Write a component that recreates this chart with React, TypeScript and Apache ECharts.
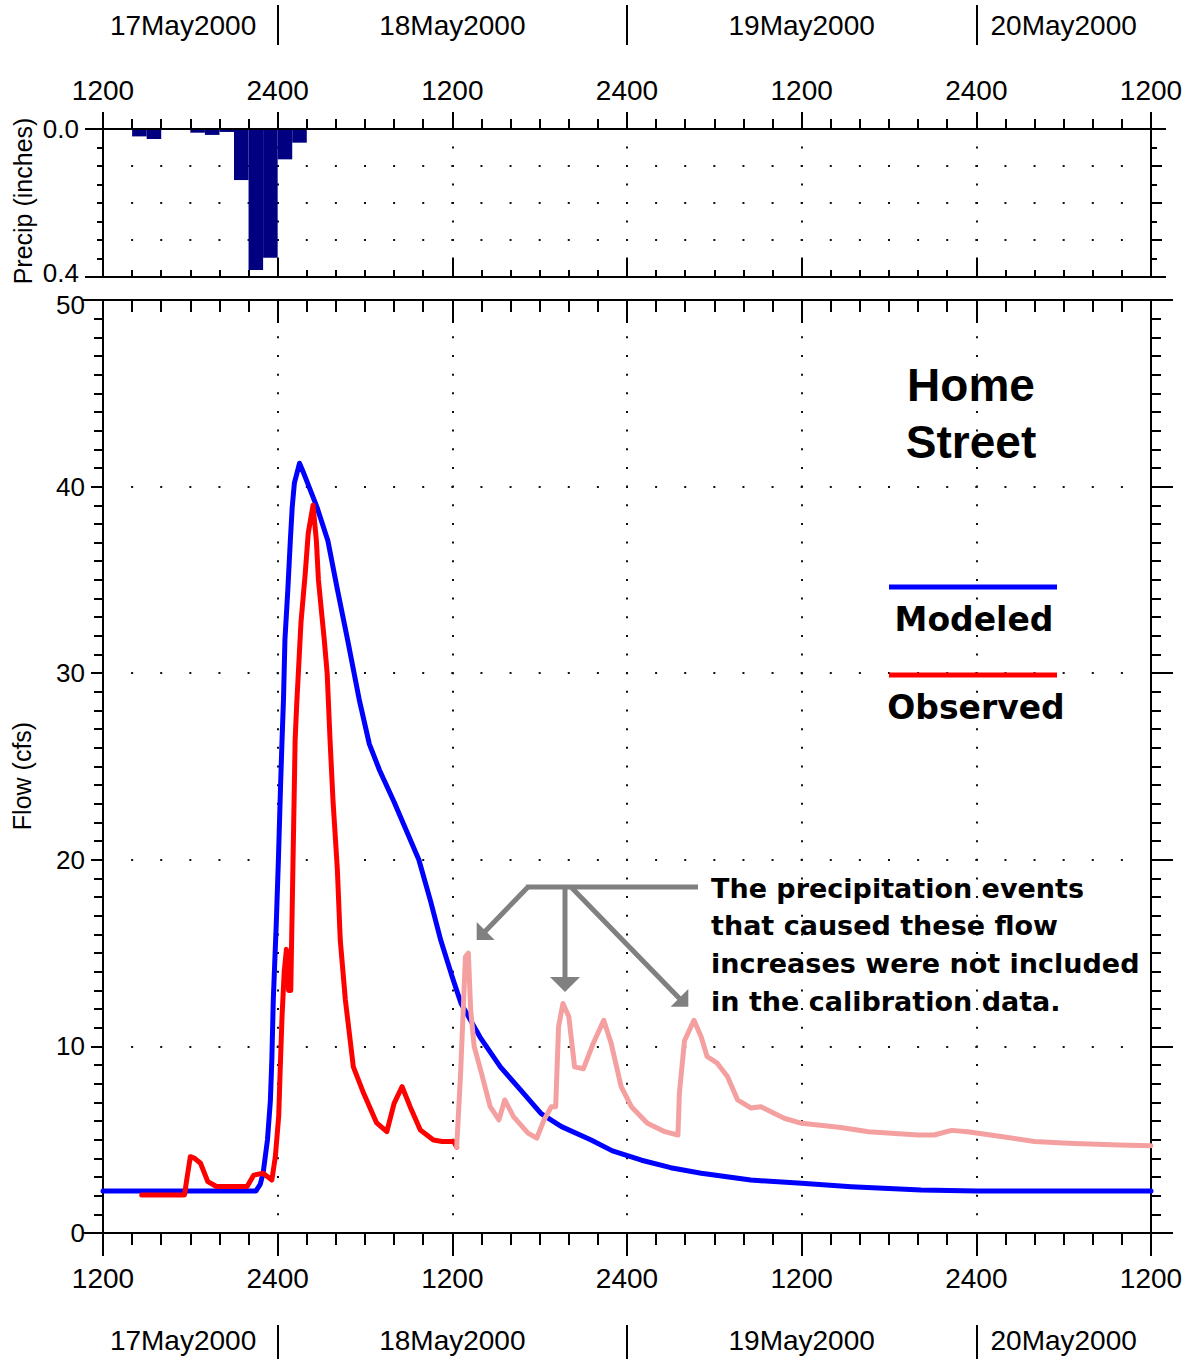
import React, { useEffect, useRef } from "react";
import * as echarts from "echarts";

// ---------- DATA ----------
// hours counted from 17May2000 12:00
const axisHours = [0, 12, 24, 36, 48, 60, 72];
const dateLabels = ["17May2000", "18May2000", "19May2000", "20May2000"];
const dateLabelHours = [5.5, 24, 48, 66];
const midnightHours = [12, 36, 60];

// hourly precipitation (bar starts at hour, lasts one hour), inches
const precipHours = [2, 3, 6, 7, 8, 9, 10, 11, 12, 13];
const precipValues = [0.02, 0.027, 0.01, 0.016, 0.008, 0.138, 0.381, 0.348, 0.082, 0.037];

const modeledHours = [0, 10.5, 10.8, 11.0, 11.3, 11.5, 11.6, 11.7, 11.9, 12.05, 12.2, 12.3, 12.4, 12.5, 12.7, 12.87, 13.0, 13.15, 13.5, 13.8, 14.15, 14.7, 15.45, 16.1, 16.8, 17.6, 18.3, 19.0, 20.0, 21.7, 22.5, 23.2, 24.0, 24.6, 25.9, 27.3, 28.7, 30.1, 31.5, 33.5, 35.0, 37.0, 39.0, 41.1, 44.5, 48.0, 51.4, 56.2, 60.0, 72.0];
const modeledFlow = [2.25, 2.25, 2.6, 3.2, 5.0, 7.1, 9.3, 12.5, 16.5, 20.0, 24.0, 26.4, 28.6, 31.8, 34.5, 37.1, 38.9, 40.2, 41.25, 40.7, 40.0, 38.9, 37.1, 34.5, 31.8, 28.6, 26.2, 24.8, 23.1, 20.0, 17.8, 15.7, 13.7, 12.3, 10.5, 8.9, 7.66, 6.4, 5.7, 5.0, 4.4, 3.9, 3.5, 3.2, 2.84, 2.66, 2.48, 2.3, 2.25, 2.25];

const observedHours = [2.66, 5.6, 5.75, 6.0, 6.3, 6.7, 7.2, 7.8, 9.9, 10.35, 11.0, 11.6, 11.84, 12.07, 12.18, 12.3, 12.45, 12.6, 12.75, 12.9, 13.2, 13.3, 13.5, 13.6, 13.9, 14.1, 14.43, 14.66, 14.8, 15.05, 15.2, 15.4, 15.5, 15.6, 15.8, 16.1, 16.3, 16.65, 17.2, 17.9, 18.8, 19.5, 20.0, 20.55, 21.1, 21.8, 22.7, 23.3, 24.1, 24.3];
const observedFlow = [2.04, 2.04, 2.84, 4.09, 4.0, 3.74, 2.75, 2.49, 2.49, 3.1, 3.2, 2.84, 4.09, 6.24, 8.9, 11.6, 14.0, 15.2, 13.0, 13.0, 26.4, 28.2, 31.2, 32.7, 35.4, 37.5, 39.0, 37.1, 35.0, 33.0, 31.8, 30.0, 28.2, 26.4, 23.2, 19.5, 15.7, 12.5, 8.9, 7.5, 5.9, 5.43, 6.95, 7.84, 6.77, 5.52, 4.98, 4.9, 4.9, 4.6];

const uncalibratedHours = [24.3, 24.57, 24.9, 25.1, 25.26, 25.5, 26.0, 26.6, 27.2, 27.6, 28.2, 29.2, 29.8, 30.3, 30.8, 31.1, 31.3, 31.6, 32.0, 32.4, 33.0, 33.7, 34.4, 34.9, 35.6, 36.3, 37.4, 38.6, 39.5, 39.6, 39.95, 40.6, 41.1, 41.5, 42.2, 42.9, 43.6, 44.5, 45.2, 46.1, 46.8, 48.0, 50.7, 52.6, 56.0, 57.1, 58.3, 59.4, 61.7, 64.0, 66.3, 69.8, 72.0];
const uncalibratedFlow = [4.6, 8.6, 14.8, 15.0, 11.95, 10.0, 8.57, 6.77, 6.06, 7.13, 6.24, 5.35, 5.08, 6.06, 6.77, 6.77, 11.07, 12.3, 11.6, 8.9, 8.8, 10.2, 11.4, 10.2, 7.84, 6.77, 5.88, 5.43, 5.25, 7.5, 10.3, 11.4, 10.5, 9.46, 9.1, 8.39, 7.13, 6.7, 6.77, 6.42, 6.15, 5.88, 5.65, 5.43, 5.25, 5.25, 5.5, 5.43, 5.17, 4.9, 4.81, 4.72, 4.68];

const titleLines = ["Home", "Street"];
const legendNames = ["Modeled", "Observed"];
const noteLines = [
  "The precipitation events",
  "that caused these flow",
  "increases were not included",
  "in the calibration data.",
];

// ---------- LAYOUT ----------
const W = 1190;
const H = 1359;
const GL = 103;
const GR = 1151;
const P_TOP = 129;
const P_BOT = 277;
const F_TOP = 300;
const F_BOT = 1233;
const GW = GR - GL;
const SANS = "'Liberation Sans', Arial, sans-serif";
const BOLD_WIDE = "'DejaVu Sans', Verdana, sans-serif";
const BLACK = "#000000";
const GRAY = "#808080";
const BLUE = "#0000FF";
const RED = "#FF0000";
const PINK = "#F5A0A0";
const NAVY = "#000080";

const hourDotGap = GW / 36; // dot every 2 hours
const precipDotGap = (P_BOT - P_TOP) / 8; // 0.05 in
const flowDotGap = (F_BOT - F_TOP) / 50; // 1 cfs

const stroke = { color: BLACK, width: 2 };
const dotted = (gap: number) => ({ color: "#111", width: 2, type: [2, gap - 2], dashOffset: 1 });
const hourLabel = (v: number) => (Math.round(v) % 24 === 0 ? "1200" : "2400");

function xAx(o: any) {
  return {
    type: "value",
    min: 0,
    max: 72,
    interval: 12,
    axisLine: { show: true, onZero: false, lineStyle: stroke },
    splitLine: { show: false },
    minorSplitLine: { show: false },
    ...o,
  };
}
function yAx(o: any) {
  return {
    type: "value",
    axisLine: { show: true, onZero: false, lineStyle: stroke },
    splitLine: { show: false },
    minorSplitLine: { show: false },
    ...o,
  };
}

function buildOption() {
  const tickLabel = { color: BLACK, fontSize: 28, fontFamily: SANS };
  const yFont = { color: BLACK, fontSize: 26, fontFamily: SANS };
  const xAxis = [
    xAx({
      gridIndex: 0,
      position: "top",
      axisTick: { show: true, inside: false, length: 17, lineStyle: stroke },
      minorTick: { show: true, splitNumber: 6, length: 10, lineStyle: stroke },
      axisLabel: { show: true, formatter: hourLabel, margin: 25, showMinLabel: true, showMaxLabel: true, ...tickLabel },
      splitLine: { show: true, lineStyle: dotted(precipDotGap) },
    }),
    xAx({
      gridIndex: 0,
      position: "bottom",
      axisTick: { show: true, inside: true, length: 19, lineStyle: stroke },
      minorTick: { show: true, splitNumber: 6, length: 7, lineStyle: stroke },
      axisLabel: { show: false },
    }),
    xAx({
      gridIndex: 1,
      position: "top",
      axisTick: { show: true, inside: true, length: 23, lineStyle: stroke },
      minorTick: { show: true, splitNumber: 6, length: 12, lineStyle: stroke },
      axisLabel: { show: false },
    }),
    xAx({
      gridIndex: 1,
      position: "bottom",
      axisTick: { show: true, inside: false, length: 23, lineStyle: stroke },
      minorTick: { show: true, splitNumber: 6, length: 12, lineStyle: stroke },
      axisLabel: { show: true, formatter: hourLabel, margin: 31, showMinLabel: true, showMaxLabel: true, ...tickLabel },
      splitLine: { show: true, lineStyle: dotted(flowDotGap) },
    }),
    xAx({
      gridIndex: 0,
      position: "top",
      offset: P_TOP - 45,
      interval: undefined,
      axisLine: { show: false, onZero: false },
      axisTick: { show: true, inside: false, length: 40, lineStyle: stroke, customValues: midnightHours },
      minorTick: { show: false },
      axisLabel: {
        show: true,
        customValues: dateLabelHours,
        formatter: (v: number) => dateLabels[dateLabelHours.indexOf(v)] ?? "",
        margin: 6,
        ...tickLabel,
      },
    }),
    xAx({
      gridIndex: 1,
      position: "bottom",
      offset: 1325 - F_BOT,
      interval: undefined,
      axisLine: { show: false, onZero: false },
      axisTick: { show: true, inside: false, length: 40, lineStyle: stroke, customValues: midnightHours },
      minorTick: { show: false },
      axisLabel: {
        show: true,
        customValues: dateLabelHours,
        formatter: (v: number) => dateLabels[dateLabelHours.indexOf(v)] ?? "",
        margin: 1,
        ...tickLabel,
      },
    }),
  ];

  const yAxis = [
    yAx({
      gridIndex: 0,
      position: "left",
      inverse: true,
      min: 0,
      max: 0.4,
      interval: 0.1,
      axisTick: { show: true, inside: false, length: 6, lineStyle: stroke },
      minorTick: { show: true, splitNumber: 2, length: 6, lineStyle: stroke },
      axisLabel: {
        show: true,
        margin: 24,
        formatter: (v: number) => (Math.abs(v) < 1e-9 ? "0.0" : Math.abs(v - 0.4) < 1e-9 ? "{lo|0.4}" : ""),
        showMinLabel: true,
        showMaxLabel: true,
        ...yFont,
        rich: { lo: { ...yFont, padding: [0, 0, 9, 0] } },
      },
      splitLine: { show: true, lineStyle: dotted(hourDotGap) },
    }),
    yAx({
      gridIndex: 0,
      position: "right",
      inverse: true,
      min: 0,
      max: 0.4,
      interval: 0.1,
      axisTick: { show: true, inside: false, length: 11, lineStyle: stroke },
      minorTick: { show: true, splitNumber: 2, length: 6, lineStyle: stroke },
      axisLabel: { show: false },
    }),
    yAx({
      gridIndex: 1,
      position: "left",
      min: 0,
      max: 50,
      interval: 10,
      axisTick: { show: true, inside: false, length: 12, lineStyle: stroke },
      minorTick: { show: true, splitNumber: 10, length: 9, lineStyle: stroke },
      axisLabel: {
        show: true,
        margin: 18,
        showMinLabel: true,
        showMaxLabel: true,
        formatter: (v: number) => (v === 50 ? "{hi|50}" : String(v)),
        ...yFont,
        rich: { hi: { ...yFont, padding: [9, 0, 0, 0] } },
      },
      splitLine: { show: true, lineStyle: dotted(hourDotGap) },
    }),
    yAx({
      gridIndex: 1,
      position: "right",
      min: 0,
      max: 50,
      interval: 10,
      axisTick: { show: true, inside: false, length: 22, lineStyle: stroke },
      minorTick: { show: true, splitNumber: 10, length: 10, lineStyle: stroke },
      axisLabel: { show: false },
    }),
  ];

  const lineStyle = (color: string) => ({ color, width: 5, cap: "round", join: "round" });
  const pairs = (xs: number[], ys: number[]) => xs.map((x, i) => [x, ys[i]]);

  const series = [
    {
      type: "bar",
      name: "Precip",
      xAxisIndex: 0,
      yAxisIndex: 0,
      barWidth: "100%",
      itemStyle: { color: NAVY },
      data: precipHours.map((h, i) => [h + 0.5, precipValues[i]]),
    },
    {
      type: "line",
      name: legendNames[0],
      xAxisIndex: 3,
      yAxisIndex: 2,
      symbol: "none",
      showSymbol: false,
      lineStyle: lineStyle(BLUE),
      data: pairs(modeledHours, modeledFlow),
      z: 3,
    },
    {
      type: "line",
      name: legendNames[1],
      xAxisIndex: 3,
      yAxisIndex: 2,
      symbol: "none",
      showSymbol: false,
      lineStyle: lineStyle(RED),
      data: pairs(observedHours, observedFlow),
      z: 4,
    },
    {
      type: "line",
      name: "Observed (uncalibrated)",
      xAxisIndex: 3,
      yAxisIndex: 2,
      symbol: "none",
      showSymbol: false,
      lineStyle: lineStyle(PINK),
      data: pairs(uncalibratedHours, uncalibratedFlow),
      z: 5,
    },
  ];

  const hline = (x1: number, x2: number, y: number) => ({
    type: "line",
    silent: true,
    shape: { x1, y1: y, x2, y2: y },
    style: { stroke: BLACK, lineWidth: 2 },
    z: 10,
  });
  const gline = (x1: number, y1: number, x2: number, y2: number, color: string, w: number) => ({
    type: "line",
    silent: true,
    shape: { x1, y1, x2, y2 },
    style: { stroke: color, lineWidth: w },
    z: 20,
  });
  const poly = (pts: number[][]) => ({
    type: "polygon",
    silent: true,
    shape: { points: pts },
    style: { fill: GRAY },
    z: 20,
  });
  const txt = (text: string, x: number, y: number, font: string, size: number, weight: string, align: string, rot = 0) => ({
    type: "text",
    silent: true,
    x,
    y,
    rotation: rot,
    style: { text, fill: BLACK, font: `${weight} ${size}px ${font}`, align, verticalAlign: "middle" },
    z: 30,
  });

  const graphic: any[] = [
    hline(85, 1166, P_TOP),
    hline(85, 1166, P_BOT),
    hline(82, 1173, F_TOP),
    hline(82, 1170, F_BOT),
    txt("Precip (inches)", 23, 201, SANS, 25, "normal", "center", Math.PI / 2),
    txt("Flow (cfs)", 22, 776, SANS, 25, "normal", "center", Math.PI / 2),
    txt(titleLines[0], 971, 385, SANS, 46, "bold", "center"),
    txt(titleLines[1], 971, 442, SANS, 46, "bold", "center"),
    gline(889, 587, 1057, 587, BLUE, 5),
    txt(legendNames[0], 974, 619, BOLD_WIDE, 33, "bold", "center"),
    gline(889, 675, 1057, 675, RED, 5),
    txt(legendNames[1], 976, 707, BOLD_WIDE, 33, "bold", "center"),
    // annotation arrows
    gline(526, 887, 698, 887, GRAY, 5),
    gline(528, 887, 485, 931.5, GRAY, 5),
    poly([[476.7, 940], [476.7, 922], [494.7, 940]]),
    gline(565, 887, 565, 977, GRAY, 5),
    poly([[550, 977], [580, 977], [565, 992]]),
    gline(571, 887, 679.5, 998.5, GRAY, 5),
    poly([[688.3, 1006.7], [688.3, 989], [670.6, 1006.7]]),
    ...noteLines.map((t, i) => txt(t, 711, 888 + i * 37.7, BOLD_WIDE, 27, "bold", "left")),
  ];

  return {
    animation: false,
    backgroundColor: "#ffffff",
    textStyle: { fontFamily: SANS },
    grid: [
      { left: GL, top: P_TOP, width: GW, height: P_BOT - P_TOP, outerBoundsMode: "none", containLabel: false },
      { left: GL, top: F_TOP, width: GW, height: F_BOT - F_TOP, outerBoundsMode: "none", containLabel: false },
    ],
    xAxis,
    yAxis,
    series,
    graphic,
  };
}

export default function App() {
  const ref = useRef<HTMLDivElement>(null);
  useEffect(() => {
    document.body.style.margin = "0";
    if (!ref.current) return;
    const chart = echarts.init(ref.current, null, { renderer: "svg", width: W, height: H });
    chart.setOption(buildOption() as any);
    return () => chart.dispose();
  }, []);
  return <div ref={ref} style={{ width: W, height: H }} />;
}
